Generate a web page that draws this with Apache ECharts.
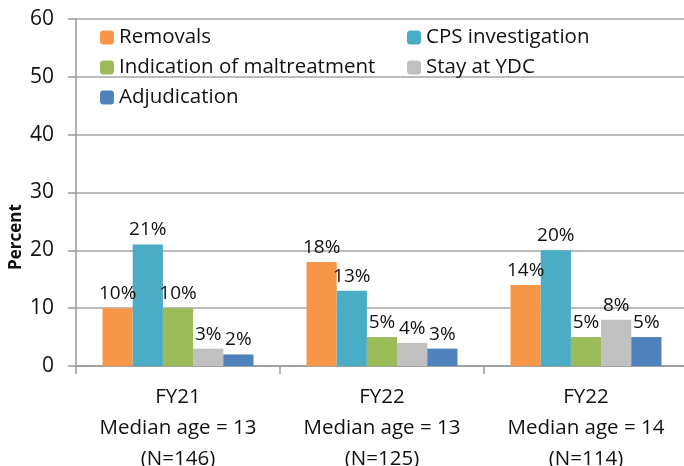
<!DOCTYPE html>
<html>
<head>
<meta charset="UTF-8">
<title>Percent by year</title>
<script type="text/javascript" src="https://cdn.jsdelivr.net/npm/echarts@6/dist/echarts.min.js"></script>
<style>
  body { margin: 0; background: #fff; }
  #main { width: 684px; height: 466px; }
</style>
</head>
<body>
<div id="main"></div>
<script type="text/javascript">
// categories on the x axis
var categories = ['FY21\nMedian age = 13\n(N=146)', 'FY22\nMedian age = 13\n(N=125)', 'FY22\nMedian age = 14\n(N=114)'];
// series values (percent)
var removals = [10, 18, 14];
var cpsInvestigation = [21, 13, 20];
var maltreatment = [10, 5, 5];
var stayYDC = [3, 4, 8];
var adjudication = [2, 3, 5];

var font = 'Open Sans';

function bar(name, data, color) {
	return {
		name: name,
		type: 'bar',
		data: data,
		barGap: '0%',
		barCategoryGap: '26%',
		itemStyle: { color: color },
		label: {
			show: true,
			position: 'top',
			distance: 5,
			formatter: '{c}%',
			color: '#111',
			fontFamily: font,
			fontSize: 19
		}
	};
}

var chart = echarts.init(document.getElementById('main'));
var option = {
	animation: false,
	textStyle: { fontFamily: font },
	grid: { left: 76, top: 19, width: 612, bottom: 100, outerBoundsMode: 'none', containLabel: false },
	legend: [
		{
			orient: 'vertical',
			left: 95, top: 22,
			itemWidth: 14, itemHeight: 14, itemGap: 9,
			textStyle: { fontSize: 20.5, color: '#111', fontFamily: font },
			data: ['Removals', 'Indication of maltreatment', 'Adjudication']
		},
		{
			orient: 'vertical',
			left: 402, top: 22,
			itemWidth: 14, itemHeight: 14, itemGap: 9,
			textStyle: { fontSize: 20.5, color: '#111', fontFamily: font },
			data: ['CPS investigation', 'Stay at YDC']
		}
	],
	// axis title drawn as text so it can sit where the reference puts it
	graphic: [{
		type: 'text',
		x: 16, y: 237,
		rotation: Math.PI / 2,
		style: {
			text: 'Percent',
			fontSize: 17, fontWeight: 'bold', fill: '#111', fontFamily: font,
			align: 'center', verticalAlign: 'middle'
		}
	}],
	xAxis: {
		type: 'category',
		data: categories,
		axisLine: { lineStyle: { color: '#999', width: 1.5 } },
		axisTick: { show: true, length: 8, lineStyle: { color: '#999', width: 1.5 } },
		axisLabel: { color: '#111', fontSize: 20.5, lineHeight: 31, margin: 16, fontFamily: font }
	},
	yAxis: {
		type: 'value',
		min: 0, max: 60, interval: 10,
		axisLine: { show: true, lineStyle: { color: '#999', width: 1.5 } },
		axisTick: { show: true, length: 8, lineStyle: { color: '#999', width: 1.5 } },
		axisLabel: { color: '#111', fontSize: 21, margin: 22, fontFamily: font },
		splitLine: { lineStyle: { color: '#a6a6a6', width: 1.5 } }
	},
	series: [
		bar('Removals', removals, '#F79646'),
		bar('CPS investigation', cpsInvestigation, '#4BACC6'),
		bar('Indication of maltreatment', maltreatment, '#9BBB59'),
		bar('Stay at YDC', stayYDC, '#C0C0C0'),
		bar('Adjudication', adjudication, '#4F81BD')
	]
};
chart.setOption(option);
</script>
</body>
</html>
